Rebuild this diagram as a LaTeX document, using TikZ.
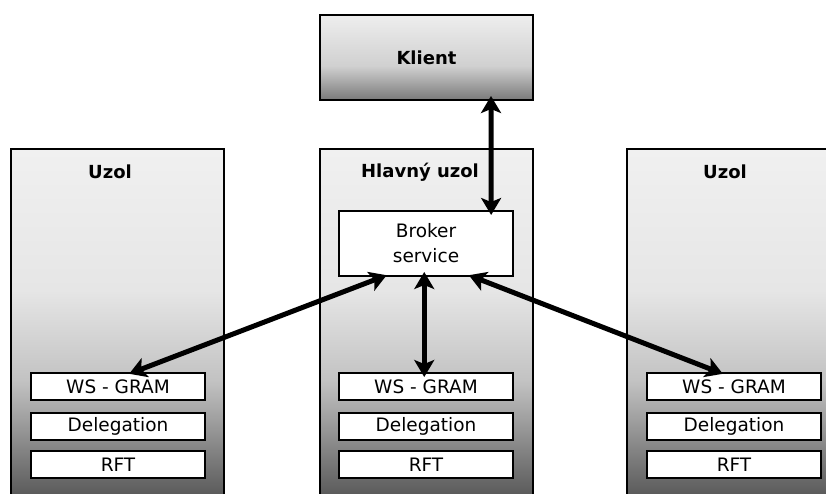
\documentclass[tikz,border=0pt]{standalone}
\usepackage{fontspec}
\setmainfont{DejaVu Sans}
\usetikzlibrary{arrows.meta,calc}

\definecolor{uzT}{HTML}{F0F0F0}
\definecolor{uzL}{HTML}{E6E6E6}
\definecolor{uzM}{HTML}{C2C2C2}
\definecolor{uzD}{HTML}{555555}
\definecolor{klT}{HTML}{EEEEEE}
\definecolor{klM}{HTML}{D0D0D0}
\definecolor{klD}{HTML}{7A7A7A}

% node background: light on top, darkening towards the bottom
\pgfdeclareverticalshading{uzolshade}{100bp}{color(0bp)=(uzD); color(25bp)=(uzD); color(42bp)=(uzM); color(55bp)=(uzL); color(75bp)=(uzT); color(100bp)=(uzT)}
\pgfdeclareverticalshading{klientshade}{100bp}{color(0bp)=(klD); color(25bp)=(klD); color(45bp)=(klM); color(75bp)=(klT); color(100bp)=(klT)}

\tikzset{
  hostbox/.style={draw=black, line width=2pt, shade, shading=uzolshade,
    minimum width=213pt, minimum height=352pt, anchor=north west, inner sep=0pt},
  clientbox/.style={draw=black, line width=2pt, shade, shading=klientshade,
    minimum width=213pt, minimum height=85pt, anchor=north west, inner sep=0pt,
    font=\fontsize{18}{21}\selectfont\bfseries},
  hosttitle/.style={font=\fontsize{18}{21}\selectfont\bfseries, anchor=center, inner sep=0pt},
  svcbox/.style={draw=black, line width=2pt, fill=white,
    minimum width=174pt, minimum height=27pt, anchor=north west, inner sep=0pt,
    font=\fontsize{18.5}{22}\selectfont},
  link/.style={line width=5pt, {Stealth[length=17pt,width=20pt,inset=4pt]}-{Stealth[length=17pt,width=20pt,inset=4pt]}, shorten <=-5pt, shorten >=-5pt}
}

\begin{document}
\begin{tikzpicture}[x=1pt, y=-1pt]
\useasboundingbox (0,0) rectangle (826,493);
\clip (0,0) rectangle (826,493);

% client
\node[clientbox] (klient) at (319,14) {Klient};

% the three hosts
\node[hostbox] (hostL) at (10,148) {};
\node[hostbox] (hostM) at (319,148) {};
\node[hostbox] (hostR) at (626,148) {};

\node[hosttitle] (titleL) at (110,172) {Uzol};
\node[hosttitle] (titleM) at (420,172) {Hlavný uzol};
\node[hosttitle] (titleR) at (725,172) {Uzol};

% broker on the main host
\node[svcbox, minimum height=65pt, align=center,
      font=\fontsize{18.5}{25}\selectfont] (broker) at (338,210) {Broker\\service};

% service stacks
\foreach \n/\x in {L/30, M/338, R/646}{
  \node[svcbox] (ws\n)  at (\x,372) {WS - GRAM};
  \node[svcbox] (del\n) at (\x,412) {Delegation};
  \node[svcbox] (rft\n) at (\x,450) {RFT};
}

% connections
\draw[link] ($(klient.south west)!0.8!(klient.south east)$) -- ($(broker.north west)!0.87!(broker.north east)$);
\draw[link] ($(broker.south west)!0.25!(broker.south east)$) -- ($(wsL.north west)!0.59!(wsL.north east)$);
\draw[link] ($(broker.south west)!0.49!(broker.south east)$) -- ($(wsM.north west)!0.49!(wsM.north east)$);
\draw[link] ($(broker.south west)!0.77!(broker.south east)$) -- ($(wsR.north west)!0.41!(wsR.north east)$);
\end{tikzpicture}
\end{document}
